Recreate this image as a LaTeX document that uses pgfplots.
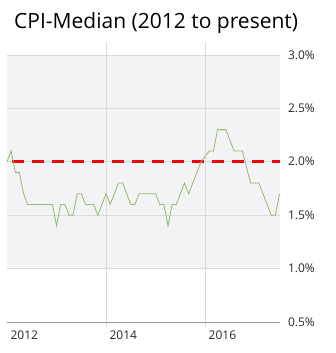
\documentclass[border=0pt]{standalone}
\usepackage{pgfplots}
\pgfplotsset{compat=1.18}
\usepackage{fontspec}
\setmainfont{Open Sans}
\definecolor{bgband}{RGB}{243,242,245}
\definecolor{gridc}{RGB}{218,218,221}
\definecolor{axisc}{RGB}{150,150,150}
\definecolor{linec}{RGB}{146,186,115}
\definecolor{redc}{RGB}{235,8,8}
\definecolor{txt}{RGB}{40,40,40}
\begin{document}
\begin{tikzpicture}
\path[use as bounding box] (0pt,0pt) rectangle (335pt,353pt);
\node[anchor=base west, font=\fontsize{21}{25}\selectfont, text=black, inner sep=0pt] at (14pt,324pt) {CPI-Median (2012 to present)};
\begin{axis}[at={(7pt,31pt)}, anchor=south west,
  scale only axis, width=272.5pt, height=280pt,
  xmin=2012, xmax=2017.5, ymin=0.5, ymax=3.12,
  axis line style={draw=none}, tick style={draw=none}, major tick length=0pt,
  xtick={2012,2014,2016}, xticklabels={2012,2014,2016},
  ytick={0.5,1,1.5,2,2.5,3}, yticklabels={0.5\%,1.0\%,1.5\%,2.0\%,2.5\%,3.0\%},
  yticklabel pos=right,
  xticklabel style={anchor=north west, yshift=-5pt, font=\fontsize{12}{14}\selectfont, text=txt},
  yticklabel style={anchor=west, xshift=5pt, font=\fontsize{12}{14}\selectfont, text=txt},
  clip=false,
]
\fill[bgband] (axis cs:2012,1) rectangle (axis cs:2017.5,3);
\draw[gridc] (axis cs:2012,1) -- (axis cs:2017.5,1);
\draw[gridc] (axis cs:2012,1.5) -- (axis cs:2017.5,1.5);
\draw[gridc] (axis cs:2012,2) -- (axis cs:2017.5,2);
\draw[gridc] (axis cs:2012,2.5) -- (axis cs:2017.5,2.5);
\draw[gridc] (axis cs:2012,3) -- (axis cs:2017.5,3);
\draw[gridc] (axis cs:2014,0.45) -- (axis cs:2014,3.12);
\draw[gridc] (axis cs:2016,0.45) -- (axis cs:2016,3.12);
\draw[axisc] (axis cs:2012,0.5) -- (axis cs:2017.5,0.5);
\addplot[redc, line width=3.2pt, dash pattern=on 11.5pt off 8.5pt] coordinates {(2012.11,2)(2017.5,2)};
\addplot[linec, line width=0.8pt] coordinates {
(2012.000,2.0)(2012.083,2.1)(2012.167,1.9)(2012.250,1.9)(2012.333,1.7)(2012.417,1.6)(2012.500,1.6)(2012.583,1.6)(2012.667,1.6)(2012.750,1.6)(2012.833,1.6)(2012.917,1.6)
(2013.000,1.4)(2013.083,1.6)(2013.167,1.6)(2013.250,1.5)(2013.333,1.5)(2013.417,1.7)(2013.500,1.7)(2013.583,1.6)(2013.667,1.6)(2013.750,1.6)(2013.833,1.5)(2013.917,1.6)
(2014.000,1.7)(2014.083,1.6)(2014.167,1.7)(2014.250,1.8)(2014.333,1.8)(2014.417,1.7)(2014.500,1.6)(2014.583,1.6)(2014.667,1.7)(2014.750,1.7)(2014.833,1.7)(2014.917,1.7)
(2015.000,1.7)(2015.083,1.6)(2015.167,1.6)(2015.250,1.4)(2015.333,1.6)(2015.417,1.6)(2015.500,1.7)(2015.583,1.8)(2015.667,1.7)(2015.750,1.8)(2015.833,1.9)(2015.917,2.0)
(2016.000,2.05)(2016.083,2.1)(2016.167,2.1)(2016.250,2.3)(2016.333,2.3)(2016.417,2.3)(2016.500,2.2)(2016.583,2.1)(2016.667,2.1)(2016.750,2.1)(2016.833,1.95)(2016.917,1.8)
(2017.000,1.8)(2017.083,1.8)(2017.167,1.7)(2017.250,1.6)(2017.333,1.5)(2017.417,1.5)(2017.500,1.7)
};
\end{axis}
\end{tikzpicture}
\end{document}
